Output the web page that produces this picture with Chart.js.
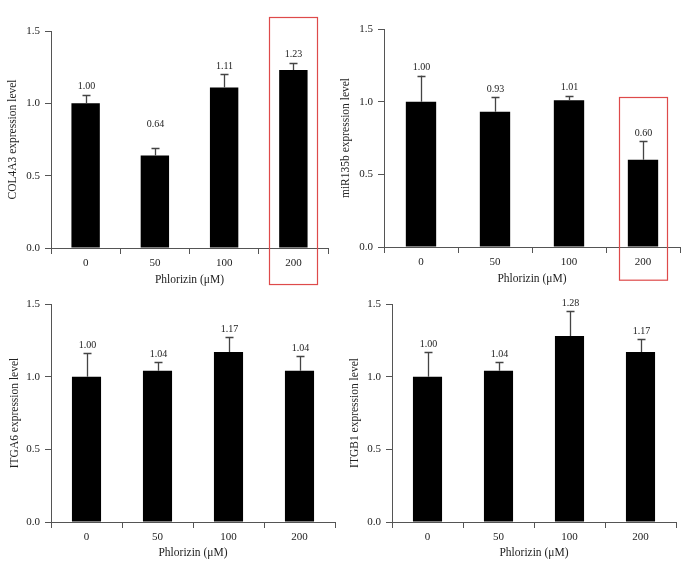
<!DOCTYPE html>
<html>
<head>
<meta charset="utf-8">
<script src="https://cdn.jsdelivr.net/npm/chart.js@4/dist/chart.umd.min.js"></script>
<style>
  html, body { margin:0; padding:0; background:#fff; }
  body { width:687px; height:567px; position:relative; overflow:hidden; }
  .p { position:absolute; }
  canvas { display:block; }
</style>
</head>
<body>
<div class="p" style="left:0px;top:0px;"><canvas id="c1" width="336" height="290"></canvas></div>
<div class="p" style="left:336px;top:0px;"><canvas id="c2" width="351" height="290"></canvas></div>
<div class="p" style="left:0px;top:285px;"><canvas id="c3" width="336" height="282"></canvas></div>
<div class="p" style="left:336px;top:285px;"><canvas id="c4" width="351" height="282"></canvas></div>
<script>
// ---- data ----
const doses = ['0', '50', '100', '200'];
const yTicks = [0, 0.5, 1.0, 1.5];

const col4a3Mean = [1.00, 0.64, 1.11, 1.23];
const col4a3Err  = [0.06, 0.05, 0.09, 0.05];

const mir135bMean = [1.00, 0.93, 1.01, 0.60];
const mir135bErr  = [0.18, 0.10, 0.03, 0.13];

const itga6Mean = [1.00, 1.04, 1.17, 1.04];
const itga6Err  = [0.16, 0.06, 0.10, 0.10];

const itgb1Mean = [1.00, 1.04, 1.28, 1.17];
const itgb1Err  = [0.17, 0.06, 0.17, 0.09];

// ---- styling ----
const FONT = "'Liberation Serif', 'DejaVu Serif', serif";
const AXIS = '#555';
const TEXT = '#222';

const errorBarPlugin = {
  id: 'errorBars',
  afterDatasetsDraw(chart, args, opts) {
    const {ctx} = chart;
    const meta = chart.getDatasetMeta(0);
    const ys = chart.scales.y;
    const ds = chart.data.datasets[0];
    ctx.save();
    ctx.strokeStyle = '#444';
    ctx.lineWidth = 1.3;
    ctx.fillStyle = TEXT;
    ctx.font = '10px ' + FONT;
    ctx.textAlign = 'center';
    ctx.textBaseline = 'middle';
    meta.data.forEach((bar, i) => {
      const v = ds.data[i];
      const e = opts.errors[i];
      const yTop = ys.getPixelForValue(v + e);
      const yBar = ys.getPixelForValue(v);
      const x = Math.round(bar.x) + 0.5;
      ctx.beginPath();
      ctx.moveTo(x, yBar);
      ctx.lineTo(x, yTop);
      ctx.moveTo(x - 4, Math.round(yTop) + 0.5);
      ctx.lineTo(x + 4, Math.round(yTop) + 0.5);
      ctx.stroke();
      const lift = (opts.lift && opts.lift[i]) || 0;
      ctx.fillText(v.toFixed(2), x, yTop - 8 - lift);
    });
    if (opts.box) {
      const bar = meta.data[opts.box.index];
      const x0 = bar.x - 24, x1 = bar.x + 24;
      const y0 = ys.getPixelForValue(opts.box.topValue);
      const y1 = opts.box.bottomPx;
      ctx.strokeStyle = '#de4a4a';
      ctx.lineWidth = 1.2;
      ctx.strokeRect(Math.round(x0) + 0.5, Math.round(y0) + 0.5, x1 - x0, y1 - y0);
    }
    ctx.restore();
  }
};

function makeChart(id, cfg) {
  return new Chart(document.getElementById(id), {
    type: 'bar',
    data: {
      labels: doses,
      datasets: [{
        data: cfg.mean,
        backgroundColor: '#000',
        borderWidth: 0,
        barPercentage: 0.41,
        categoryPercentage: 1.0
      }]
    },
    options: {
      responsive: false,
      animation: false,
      events: [],
      layout: { padding: { left: 0, top: cfg.top, right: cfg.right, bottom: 0 } },
      plugins: {
        legend: { display: false },
        tooltip: { enabled: false },
        errorBars: { errors: cfg.err, lift: cfg.lift, box: cfg.box }
      },
      scales: {
        x: {
          type: 'category',
          offset: true,
          grid: { offset: true, drawOnChartArea: false, drawTicks: true, tickLength: 6, color: AXIS, lineWidth: 1 },
          border: { display: true, color: AXIS, width: 1 },
          ticks: { color: TEXT, font: { family: FONT, size: 11 }, padding: 3, maxRotation: 0 },
          title: { display: true, text: 'Phlorizin (μM)', color: TEXT, font: { family: FONT, size: 11.5 }, padding: { top: 0, bottom: cfg.xTitlePad } },
          afterFit(s) { s.height = cfg.xHeight; }
        },
        y: {
          min: 0, max: 1.5,
          afterBuildTicks(s) { s.ticks = yTicks.map(v => ({ value: v })); },
          grid: { drawOnChartArea: false, drawTicks: true, tickLength: 6, color: AXIS, lineWidth: 1 },
          border: { display: true, color: AXIS, width: 1 },
          ticks: { color: TEXT, font: { family: FONT, size: 11 }, padding: 5, callback: v => Number(v).toFixed(1) },
          title: { display: true, text: cfg.yTitle, color: TEXT, font: { family: FONT, size: 11.5 }, padding: { top: cfg.yTitlePad, bottom: 0 } },
          afterFit(s) { s.width = cfg.yWidth; }
        }
      }
    },
    plugins: [errorBarPlugin]
  });
}

makeChart('c1', {
  mean: col4a3Mean, err: col4a3Err, yTitle: 'COL4A3 expression level',
  top: 31, right: 8, yWidth: 51, xHeight: 42, xTitlePad: 3, yTitlePad: 6,
  lift: [0, 16, 0, 0],
  box: { index: 3, topValue: 1.597, bottomPx: 284 }
});
makeChart('c2', {
  mean: mir135bMean, err: mir135bErr, yTitle: 'miR135b expression level',
  top: 29, right: 7, yWidth: 48, xHeight: 43, xTitlePad: 4, yTitlePad: 3,
  box: { index: 3, topValue: 1.03, bottomPx: 280 }
});
makeChart('c3', {
  mean: itga6Mean, err: itga6Err, yTitle: 'ITGA6 expression level',
  top: 19, right: 1, yWidth: 51, xHeight: 45, xTitlePad: 7, yTitlePad: 8
});
makeChart('c4', {
  mean: itgb1Mean, err: itgb1Err, yTitle: 'ITGB1 expression level',
  top: 19, right: 11, yWidth: 56, xHeight: 45, xTitlePad: 7, yTitlePad: 12
});
</script>
</body>
</html>
